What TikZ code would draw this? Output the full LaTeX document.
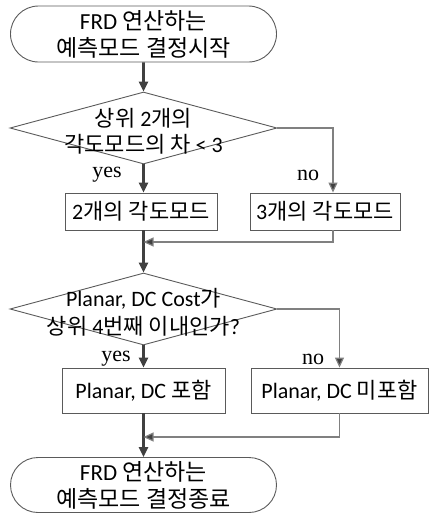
\documentclass[tikz,border=0pt]{standalone}
\usepackage{fontspec}
\setmainfont{Carlito}
\newfontfamily\kr{Noto Sans CJK KR}
\newfontfamily\tms{Liberation Serif}
\usepackage{tikz}
\usetikzlibrary{arrows.meta}
\usetikzlibrary{positioning,calc}
\usetikzlibrary{shapes.geometric,shapes.misc}

\definecolor{linedark}{HTML}{404040}
\definecolor{linegray}{HTML}{808080}
\definecolor{boxgray}{HTML}{5A5A5A}

\begin{document}
\begin{tikzpicture}[x=1pt,y=-1pt,
	font=\fontsize{23}{27}\selectfont]
	\useasboundingbox (0,0) rectangle (430,515);

	\begin{scope}[every node/.style={draw=boxgray,line width=0.9pt,align=center,inner sep=0pt}]
		\node[rounded rectangle,minimum width=266pt,minimum height=56pt] (anfang) at (143.5,34)
			{FRD {\kr 연산하는}\\{\kr 예측모드 결정시작}};
		\node[diamond,minimum width=267pt,minimum height=72pt] (frage1) at (143.5,128) {};
		\node[minimum width=152pt,minimum height=37pt,font=\fontsize{22}{26}\selectfont] (zwei) at (141,211.5) {2{\kr 개의 각도모드}};
		\node[minimum width=150pt,minimum height=37pt,font=\fontsize{22}{26}\selectfont] (drei) at (325,211.5) {3{\kr 개의 각도모드}};
		\node[diamond,minimum width=267pt,minimum height=72pt] (frage2) at (143.5,309) {};
		\node[minimum width=163pt,minimum height=45pt,font=\fontsize{22}{26}\selectfont] (mit) at (143.5,390.5) {Planar, DC {\kr 포함}};
		\node[minimum width=177pt,minimum height=45pt,font=\fontsize{22}{26}\selectfont] (ohne) at (339.5,390.5) {Planar, DC {\kr 미포함}};
		\node[rounded rectangle,minimum width=266pt,minimum height=55pt] (ende) at (143.5,485)
			{FRD {\kr 연산하는}\\{\kr 예측모드 결정종료}};
	\end{scope}

	% diamond texts
	\node[align=center,font=\fontsize{22}{26}\selectfont] (text1) at (143.5,131) {{\kr 상위} 2{\kr 개의}\\{\kr 각도모드의 차} < 3};
	\node[align=center,font=\fontsize{22}{28}\selectfont] (text2) at (143.5,312) {Planar, DC Cost{\kr 가}\\{\kr 상위} 4{\kr 번째 이내인가}?};

	\node[font=\tms\fontsize{22}{24}\selectfont] (ja1) at (107,175) {yes};
	\node[font=\tms\fontsize{22}{24}\selectfont] (nein1) at (308,175) {no};
	\node[font=\tms\fontsize{22}{24}\selectfont] (ja2) at (116,359) {yes};
	\node[font=\tms\fontsize{22}{24}\selectfont] (nein2) at (313,359) {no};

	\coordinate (treff1) at (143.5,242);
	\coordinate (treff2) at (143.5,437);

	\begin{scope}[>={Triangle[length=10pt,width=9pt]}]
		\begin{scope}[line width=2.6pt,draw=linedark,fill=linedark]
			\draw[->] (anfang) -- (frage1);
			\draw[->] (frage1) -- (frage1.south |- zwei.north);
			\draw (zwei.south -| frage1) -- (treff1);
			\draw[->] (treff1) -- (frage2);
			\draw[->] (frage2) -- (frage2.south |- mit.north);
			\draw (mit) -- (treff2);
			\draw[->] (treff2) -- (ende);
		\end{scope}
		\begin{scope}[line width=1.2pt,draw=linegray]
			\draw[-{Triangle[length=10pt,width=9pt,fill=linedark]}] (frage1.east) -| ([xshift=8pt]drei.north);
			\draw[-{Triangle[length=10pt,width=9pt,fill=linedark]}] ([xshift=8pt]drei.south) |- (treff1);
			\draw[-{Triangle[length=10pt,width=9pt,fill=linedark]}] (frage2.east) -| (ohne.north);
			\draw[-{Triangle[length=10pt,width=9pt,fill=linedark]}] (ohne.south) |- (treff2);
		\end{scope}
	\end{scope}
\end{tikzpicture}
\end{document}
